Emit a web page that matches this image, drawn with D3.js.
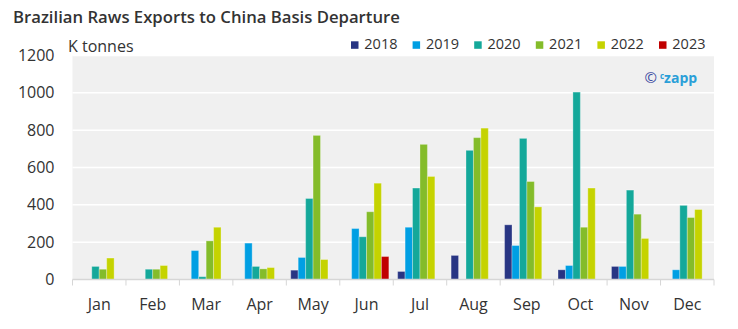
<!DOCTYPE html>
<html>
<head>
<meta charset="utf-8">
<script src="https://cdn.jsdelivr.net/npm/d3@7"></script>
<style>
  body { margin: 0; background: #fff; }
  svg { display: block; font-family: "Open Sans", sans-serif; }
</style>
</head>
<body>
<div id="chart"></div>
<script>
// monthly raws exports to China, k tonnes (null = no shipments)
var months = ['Jan', 'Feb', 'Mar', 'Apr', 'May', 'Jun', 'Jul', 'Aug', 'Sep', 'Oct', 'Nov', 'Dec'];
var years = ['2018', '2019', '2020', '2021', '2022', '2023'];
var v2018 = [null, null, null, null, 50, null, 43, 129, 293, 52, 70, null];
var v2019 = [null, null, 155, 195, 118, 273, 280, null, 182, 75, 70, 52];
var v2020 = [70, 55, 15, 70, 434, 229, 490, 692, 756, 1004, 479, 397];
var v2021 = [55, 55, 207, 57, 772, 363, 724, 760, 525, 280, 350, 332];
var v2022 = [115, 75, 280, 64, 107, 516, 552, 811, 389, 490, 220, 375];
var v2023 = [null, null, null, null, null, 123, null, null, null, null, null, null];
var yTicks = [0, 200, 400, 600, 800, 1000, 1200];

var colours = {
  '2018': '#283583',
  '2019': '#009fe3',
  '2020': '#14a89a',
  '2021': '#84bc2a',
  '2022': '#c5d300',
  '2023': '#c00000'
};

var series = [v2018, v2019, v2020, v2021, v2022, v2023];
var rows = [];
years.forEach(function (yr, s) {
  series[s].forEach(function (val, m) {
    if (val !== null) rows.push({ year: yr, month: months[m], value: val });
  });
});

var width = 738, height = 329;
var plotLeft = 72.5, plotRight = 714, plotTop = 55.5, plotBottom = 279.5;

var svg = d3.select('#chart').append('svg')
  .attr('width', width)
  .attr('height', height);

svg.append('text')
  .attr('x', 13)
  .attr('y', 23.3)
  .attr('font-size', 16.7)
  .attr('font-weight', 600)
  .attr('fill', '#333')
  .text('Brazilian Raws Exports to China Basis Departure');

var x0 = d3.scaleBand().domain(months).range([plotLeft, plotRight]);
var x1 = d3.scaleBand().domain(years).range([0, x0.bandwidth()]).paddingOuter(0.59);
var y = d3.scaleLinear().domain([0, 1200]).range([plotBottom, plotTop]);

// plot panel
svg.append('rect')
  .attr('x', plotLeft)
  .attr('y', plotTop)
  .attr('width', plotRight - plotLeft)
  .attr('height', plotBottom - plotTop)
  .attr('fill', '#f0f0f0');

svg.append('g')
  .selectAll('line')
  .data(yTicks.slice(1))
  .enter().append('line')
  .attr('x1', plotLeft)
  .attr('x2', plotRight)
  .attr('y1', function (d) { return y(d); })
  .attr('y2', function (d) { return y(d); })
  .attr('stroke', '#fff')
  .attr('stroke-width', 1.5);

// y axis labels
var yaxis = d3.axisLeft(y).tickValues(yTicks).tickFormat(d3.format('d')).tickSize(0).tickPadding(18);
var gy = svg.append('g')
  .attr('transform', 'translate(' + plotLeft + ',0)')
  .call(yaxis);
gy.select('.domain').remove();
gy.selectAll('text')
  .attr('font-family', '"Open Sans", sans-serif')
  .attr('font-size', 16)
  .attr('fill', '#333');

svg.append('text')
  .attr('x', 68)
  .attr('y', 51.5)
  .attr('font-size', 16)
  .attr('fill', '#333')
  .text('K tonnes');

// bars
svg.append('g')
  .selectAll('rect')
  .data(rows)
  .enter().append('rect')
  .attr('x', function (d) { return x0(d.month) + x1(d.year); })
  .attr('y', function (d) { return y(d.value); })
  .attr('width', x1.bandwidth())
  .attr('height', function (d) { return plotBottom - y(d.value); })
  .attr('fill', function (d) { return colours[d.year]; })
  .attr('stroke', 'rgba(255,255,255,0.3)')
  .attr('stroke-width', 1);

// x axis: ticks on band edges, labels centred
var gx = svg.append('g').attr('transform', 'translate(0,' + plotBottom + ')');
gx.append('line')
  .attr('x1', plotLeft)
  .attr('x2', plotRight)
  .attr('stroke', '#d6d6d6')
  .attr('stroke-width', 1.5);
var edges = months.map(function (m) { return x0(m); }).concat([plotRight]);
gx.selectAll('.tick')
  .data(edges)
  .enter().append('line')
  .attr('class', 'tick')
  .attr('x1', function (d) { return d; })
  .attr('x2', function (d) { return d; })
  .attr('y1', 0)
  .attr('y2', 6)
  .attr('stroke', '#d6d6d6');
gx.selectAll('text')
  .data(months)
  .enter().append('text')
  .attr('x', function (d) { return x0(d) + x0.bandwidth() / 2; })
  .attr('y', 30.5)
  .attr('text-anchor', 'middle')
  .attr('font-size', 16)
  .attr('fill', '#333')
  .text(function (d) { return d; });

// legend
var legend = svg.append('g')
  .selectAll('g')
  .data(years)
  .enter().append('g')
  .attr('transform', function (d, i) { return 'translate(' + (351 + i * 61.6) + ',0)'; });
legend.append('rect')
  .attr('x', 0)
  .attr('y', 41.3)
  .attr('width', 7.5)
  .attr('height', 7.5)
  .attr('fill', function (d) { return colours[d]; });
legend.append('text')
  .attr('x', 13.3)
  .attr('y', 49)
  .attr('font-size', 14.5)
  .attr('fill', '#333')
  .text(function (d) { return d; });

// logo
var logo = svg.append('text')
  .attr('x', 644.5)
  .attr('y', 83.3)
  .attr('font-size', 14)
  .attr('font-weight', 700);
logo.append('tspan').attr('fill', '#3b4aa0').attr('font-weight', 400).attr('font-size', 15).text('\u00a9');
logo.append('tspan').attr('fill', '#2a9fd8').attr('font-size', 8).attr('dx', 3).attr('dy', -4).text('c');
logo.append('tspan').attr('fill', '#2a9fd8').attr('dy', 4).text('zapp');
</script>
</body>
</html>
